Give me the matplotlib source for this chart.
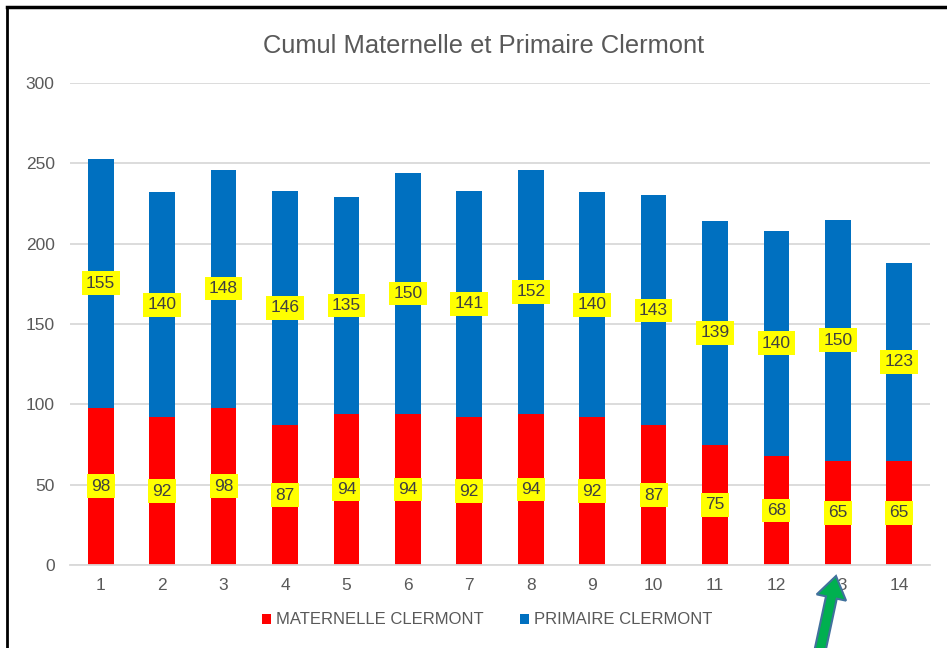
import matplotlib
matplotlib.use("Agg")
import matplotlib.pyplot as plt
from matplotlib.patches import FancyArrow, Rectangle
from matplotlib.lines import Line2D

plt.rcParams['font.family'] = ['Liberation Sans', 'DejaVu Sans']

categories = ["1", "2", "3", "4", "5", "6", "7", "8", "9", "10", "11", "12", "13", "14"]
maternelle = [98, 92, 98, 87, 94, 94, 92, 94, 92, 87, 75, 68, 65, 65]
primaire = [155, 140, 148, 146, 135, 150, 141, 152, 140, 143, 139, 140, 150, 123]
series_names = ["MATERNELLE CLERMONT", "PRIMAIRE CLERMONT"]
title = "Cumul Maternelle et Primaire Clermont"
yticks = [0, 50, 100, 150, 200, 250, 300]

RED = "#FF0000"
BLUE = "#0070C0"
GREY = "#595959"

fig = plt.figure(figsize=(9.47, 6.48), dpi=100)
ax = fig.add_axes([70/947, 1-565/648, (930-70)/947, (565-83)/648])

x = list(range(len(categories)))
ax.bar(x, maternelle, width=0.42, color=RED, zorder=2)
ax.bar(x, primaire, width=0.42, bottom=maternelle, color=BLUE, zorder=2)

bbox = dict(boxstyle="square,pad=0.25", fc="#FFFF00", ec="none")
for i in x:
    ax.text(i, maternelle[i] / 2, str(maternelle[i]), ha="center", va="center",
            fontsize=12.5, color="#404040", bbox=bbox, zorder=4)
    ax.text(i, maternelle[i] + primaire[i] / 2, str(primaire[i]), ha="center", va="center",
            fontsize=12.5, color="#404040", bbox=bbox, zorder=4)

ax.set_xlim(-0.5, len(categories) - 0.5)
ax.set_ylim(0, 300)
ax.set_yticks(yticks)
ax.set_xticks(x)
ax.set_xticklabels(categories)
ax.yaxis.grid(True, color="#D9D9D9", linewidth=1.3, zorder=0)
ax.set_axisbelow(True)
for s in ["top", "right", "left"]:
    ax.spines[s].set_visible(False)
ax.spines["bottom"].set_color("#D9D9D9")
ax.spines["bottom"].set_linewidth(1.3)
ax.tick_params(axis="both", length=0, labelsize=12.5, colors=GREY)
ax.tick_params(axis="x", pad=9)
ax.tick_params(axis="y", pad=11)

fig.text(484/947, 1-46/648, title, ha="center", va="center", fontsize=18.4, color=GREY)

handles = [Rectangle((0, 0), 1, 1, fc=RED), Rectangle((0, 0), 1, 1, fc=BLUE)]
fig.legend(handles, series_names, loc="center", bbox_to_anchor=(487/947, 1-620/648),
           ncol=2, frameon=False, fontsize=12, labelcolor=GREY,
           handlelength=0.55, handleheight=0.55, handletextpad=0.3, columnspacing=2.15)

# figure border (top and left)
fig.add_artist(Line2D([7/947, 7/947], [0, 1-7/648], transform=fig.transFigure, color="black", lw=2))
fig.add_artist(Line2D([7/947, 1], [1-7/648, 1-7/648], transform=fig.transFigure, color="black", lw=2.5))

# green arrow (figure pixel coordinates)
W, H = 947, 648
x0, y0 = 818, 660
x1, y1 = 836, 576
arrow = FancyArrow(x0, H - y0, x1 - x0, -(y1 - y0), width=11, head_width=30, head_length=22,
                   length_includes_head=True, transform=None, fc="#00B050", ec="#41719C", lw=1.5,
                   zorder=10)
fig.add_artist(arrow)

fig.savefig("out.png", dpi=100)
